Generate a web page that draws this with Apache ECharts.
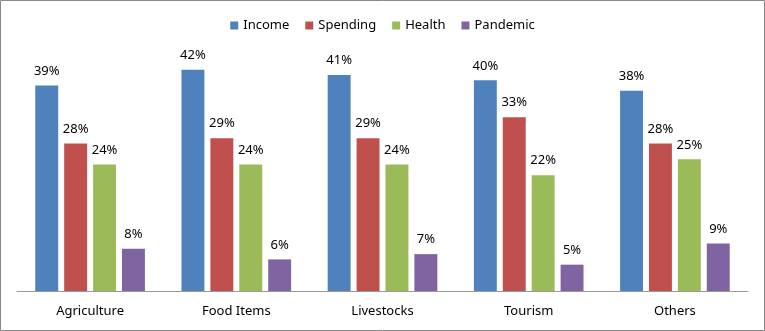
<!DOCTYPE html>
<html>
<head>
<meta charset="utf-8">
<script src="https://cdn.jsdelivr.net/npm/echarts@6/dist/echarts.min.js"></script>
<style>
  html, body { margin: 0; padding: 0; background: #fff; }
  #chart { width: 765px; height: 331px; }
</style>
</head>
<body>
<div id="chart"></div>
<script>
var categories = ['Agriculture', 'Food Items', 'Livestocks', 'Tourism', 'Others'];
var income = [39, 42, 41, 40, 38];
var spending = [28, 29, 29, 33, 28];
var health = [24, 24, 24, 22, 25];
var pandemic = [8, 6, 7, 5, 9];

var names = ['Income', 'Spending', 'Health', 'Pandemic'];
var colors = ['#4F81BD', '#C0504D', '#9BBB59', '#8064A2'];
var values = [income, spending, health, pandemic];

var font = 'Noto Sans';

var myChart = echarts.init(document.getElementById('chart'));

var series = [];
for (var i = 0; i < names.length; i++) {
    series.push({
        name: names[i],
        type: 'bar',
        data: values[i],
        itemStyle: { color: colors[i] },
        barGap: '26%',
        barCategoryGap: '25%',
        label: {
            show: true,
            position: 'top',
            distance: 8,
            formatter: '{c}%',
            color: '#000',
            fontFamily: font,
            fontSize: 13
        }
    });
}

var option = {
    animation: false,
    backgroundColor: '#fff',
    graphic: [{
        type: 'rect',
        shape: { x: 0.5, y: 0.5, width: 764, height: 330 },
        style: { fill: 'none', stroke: '#888', lineWidth: 1 },
        z: 100
    }],
    legend: {
        top: 14,
        left: 'center',
        itemWidth: 8,
        itemHeight: 8,
        itemGap: 16,
        icon: 'rect',
        textStyle: { fontFamily: font, fontSize: 13, color: '#000' },
        data: names
    },
    grid: { left: 17, right: 17, top: 54, bottom: 40 },
    xAxis: {
        type: 'category',
        data: categories,
        axisTick: { show: false },
        axisLine: { lineStyle: { color: '#999' } },
        axisLabel: { color: '#000', fontFamily: font, fontSize: 13, margin: 14 }
    },
    yAxis: {
        type: 'value',
        min: 0,
        max: 45,
        show: false,
        splitLine: { show: false }
    },
    series: series
};

myChart.setOption(option);
window.onresize = function () {
    myChart.resize();
};
</script>
</body>
</html>
